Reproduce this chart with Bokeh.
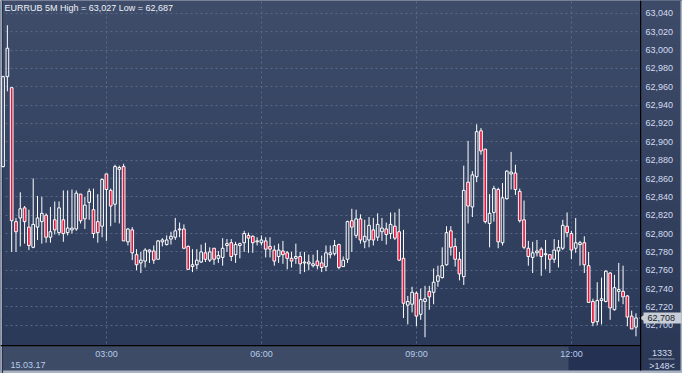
from bokeh.plotting import figure
from bokeh.models import ColumnDataSource, Range1d, FixedTicker, NumeralTickFormatter, Label, BoxAnnotation
from bokeh.embed import file_html
from bokeh.resources import INLINE

# ---------------- data ----------------
symbol = "EURRUB"
timeframe = "5M"
session_date = "15.03.17"
first_bar_time = "01:00"
bar_minutes = 5
total_bars_label = "1333"

opens = [62873, 62971, 62959, 62813, 62817, 62828, 62807, 62785, 62807, 62813,
         62820, 62796, 62815, 62801, 62815, 62801, 62804, 62805, 62843, 62816,
         62834, 62826, 62813, 62808, 62865, 62847, 62832, 62870, 62873, 62791,
         62804, 62777, 62768, 62770, 62780, 62781, 62772, 62791, 62788, 62794,
         62796, 62804, 62805, 62786, 62764, 62766, 62769, 62779, 62771, 62784,
         62773, 62774, 62787, 62790, 62777, 62787, 62790, 62798, 62797, 62791,
         62790, 62792, 62786, 62782, 62775, 62781, 62779, 62773, 62773, 62775,
         62768, 62767, 62765, 62770, 62768, 62764, 62777, 62778, 62788, 62764,
         62772, 62814, 62798, 62816, 62791, 62793, 62804, 62796, 62802, 62805,
         62800, 62808, 62802, 62773, 62722, 62723, 62735, 62712, 62726, 62737,
         62736, 62748, 62752, 62766, 62803, 62786, 62772, 62753, 62856, 62829,
         62862, 62912, 62892, 62811, 62823, 62848, 62790, 62838, 62865, 62866,
         62846, 62815, 62784, 62774, 62779, 62783, 62777, 62777, 62772, 62781,
         62784, 62808, 62800, 62784, 62788, 62790, 62765, 62726, 62704, 62727,
         62726, 62757, 62717, 62737, 62737, 62732, 62710, 62698]
highs = [62972, 63027, 62959, 62817, 62845, 62830, 62826, 62860, 62841, 62840,
         62822, 62829, 62835, 62835, 62847, 62847, 62848, 62847, 62843, 62840,
         62849, 62849, 62843, 62860, 62865, 62849, 62875, 62874, 62876, 62806,
         62807, 62783, 62780, 62784, 62783, 62787, 62793, 62795, 62798, 62802,
         62817, 62812, 62810, 62787, 62783, 62783, 62788, 62790, 62785, 62784,
         62781, 62795, 62794, 62794, 62791, 62790, 62803, 62801, 62798, 62796,
         62798, 62796, 62796, 62787, 62789, 62792, 62781, 62780, 62789, 62780,
         62780, 62777, 62777, 62782, 62776, 62787, 62787, 62793, 62789, 62775,
         62814, 62827, 62826, 62821, 62815, 62818, 62817, 62822, 62817, 62812,
         62823, 62823, 62827, 62804, 62732, 62742, 62737, 62740, 62743, 62743,
         62762, 62765, 62785, 62808, 62808, 62795, 62780, 62874, 62901, 62868,
         62919, 62915, 62892, 62843, 62852, 62850, 62855, 62869, 62889, 62875,
         62849, 62836, 62792, 62791, 62793, 62785, 62793, 62777, 62794, 62793,
         62815, 62823, 62803, 62817, 62792, 62797, 62780, 62729, 62747, 62752,
         62760, 62758, 62755, 62768, 62765, 62733, 62716, 62713]
lows = [62872, 62955, 62780, 62780, 62786, 62789, 62782, 62784, 62793, 62789,
        62790, 62790, 62799, 62798, 62791, 62798, 62800, 62803, 62811, 62805,
        62815, 62795, 62790, 62796, 62792, 62808, 62812, 62811, 62792, 62787,
        62771, 62760, 62757, 62763, 62768, 62767, 62772, 62786, 62787, 62788,
        62793, 62796, 62783, 62761, 62758, 62761, 62768, 62769, 62769, 62766,
        62768, 62765, 62780, 62770, 62768, 62773, 62780, 62779, 62779, 62787,
        62787, 62774, 62774, 62765, 62768, 62767, 62761, 62763, 62767, 62756,
        62758, 62760, 62763, 62761, 62758, 62759, 62773, 62776, 62761, 62764,
        62768, 62780, 62795, 62789, 62784, 62785, 62787, 62792, 62792, 62788,
        62794, 62793, 62770, 62708, 62701, 62714, 62699, 62706, 62687, 62717,
        62723, 62742, 62751, 62765, 62776, 62764, 62749, 62744, 62811, 62818,
        62856, 62886, 62811, 62785, 62813, 62784, 62787, 62837, 62848, 62842,
        62812, 62783, 62765, 62757, 62775, 62754, 62761, 62757, 62768, 62763,
        62782, 62796, 62772, 62779, 62765, 62757, 62725, 62699, 62700, 62701,
        62725, 62706, 62716, 62726, 62723, 62699, 62696, 62688]
closes = [62971, 63002, 62814, 62802, 62827, 62813, 62787, 62810, 62817, 62822,
          62796, 62802, 62804, 62828, 62800, 62806, 62806, 62844, 62814, 62831,
          62846, 62800, 62801, 62859, 62848, 62830, 62873, 62872, 62792, 62805,
          62779, 62766, 62771, 62782, 62782, 62771, 62792, 62793, 62793, 62797,
          62803, 62805, 62784, 62761, 62766, 62771, 62780, 62772, 62780, 62772,
          62776, 62784, 62789, 62775, 62788, 62789, 62800, 62795, 62790, 62792,
          62793, 62783, 62783, 62770, 62782, 62777, 62773, 62770, 62775, 62767,
          62769, 62769, 62767, 62765, 62763, 62779, 62779, 62787, 62763, 62771,
          62813, 62807, 62816, 62793, 62797, 62809, 62793, 62810, 62806, 62799,
          62810, 62795, 62771, 62724, 62726, 62736, 62710, 62728, 62729, 62731,
          62747, 62754, 62765, 62801, 62785, 62772, 62756, 62847, 62830, 62864,
          62911, 62890, 62813, 62822, 62849, 62791, 62839, 62868, 62867, 62848,
          62814, 62785, 62775, 62779, 62781, 62775, 62778, 62772, 62782, 62785,
          62809, 62801, 62782, 62790, 62790, 62766, 62725, 62703, 62727, 62729,
          62759, 62719, 62741, 62739, 62731, 62709, 62696, 62708]

y_ticks = list(range(62700, 63041, 20))
x_tick_labels = ["03:00", "06:00", "09:00", "12:00"]

# ---------------- derived ----------------
n = len(opens)
idx = list(range(n))
h0, m0 = map(int, first_bar_time.split(":"))
times = ["%02d:%02d" % divmod(h0 * 60 + m0 + i * bar_minutes, 60) for i in idx]
tick_pos = [times.index(t) for t in x_tick_labels]

RED = "#e3173e"
body_top = [max(o, c) for o, c in zip(opens, closes)]
body_bot = [min(o, c) for o, c in zip(opens, closes)]
src = ColumnDataSource(dict(
    x=idx, high=highs, low=lows, top=body_top, bot=body_bot,
    fill=[RED if c < o else "#000000" for o, c in zip(opens, closes)],
    falpha=[1.0 if c < o else 0.0 for o, c in zip(opens, closes)],
))

# ---------------- layout (frame = whole canvas; plot area inside it) ----------------
W, H = 682, 373
PL, PR, PT, PB = 3, 640, 0, 345          # plot area in canvas pixels
xa, xb = 0.1, 148.05                      # data x at plot area edges
ya, yb = 62678.0, 63054.0                 # data y at plot area bottom / top
pxu = (PR - PL) / (xb - xa)
pyu = (PB - PT) / (yb - ya)
xs, xe = xa - PL / pxu, xa + (W - PL) / pxu
ye, ys = yb + PT / pyu, yb - (H - PT) / pyu


def X(px):
    return xs + px / pxu


def Y(py):
    return ye - py / pyu


p = figure(width=W, height=H, output_backend="svg", toolbar_location=None, title=None,
           x_range=Range1d(xs, xe), y_range=Range1d(ys, ye), y_axis_location="right",
           min_border=0, min_border_left=0, min_border_right=0, min_border_top=0,
           min_border_bottom=0, background_fill_color="#364463",
           border_fill_color="#364463", outline_line_color=None)


def box(l, r, t, b, color, level):
    p.add_layout(BoxAnnotation(left=X(l), right=X(r), top=Y(t), bottom=Y(b),
                               fill_color=color, fill_alpha=1, line_color=None, level=level))


def mix(c1, c2, t):
    return "#%02x%02x%02x" % tuple(int(round(a + (b - a) * t)) for a, b in zip(c1, c2))


top_rgb = (62, 76, 106)
bot_rgb = (44, 58, 90)
nb = 40
for k in range(nb):
    t0, t1 = PT + k * (PB - PT) / nb, PT + (k + 1) * (PB - PT) / nb
    box(0, W, t0 - 0.3, t1 + 0.3, mix(top_rgb, bot_rgb, k / (nb - 1)), "image")

# grid
p.xgrid.ticker = FixedTicker(ticks=tick_pos)
p.ygrid.ticker = FixedTicker(ticks=y_ticks)
for g in (p.xgrid, p.ygrid):
    g.grid_line_color = "#5a6888"
    g.grid_line_dash = "2 3"
    g.grid_line_width = 1

# right price-scale strip (covers grid), bottom time strip, scroll thumb, borders
nb2 = 40
for k in range(nb2):
    t0, t1 = k * 370 / nb2, (k + 1) * 370 / nb2
    box(PR, W, t0 - 0.3, t1 + 0.3, mix((61, 75, 105), (42, 55, 86), k / (nb2 - 1)), "underlay")
box(0, PR, PB, 370, "#3e4b67", "underlay")
box(568, PR, PB + 1, 370, "#253152", "underlay")
box(0, W, 370, H, "#aab3c1", "underlay")
box(W - 2, W, 0, H, "#aab3c1", "underlay")
box(0, 1.5, 0, H, "#9aa4b5", "underlay")
box(1.5, 2.6, 0, H, "#27324c", "underlay")
box(648, 674, 358, 359, "#8a95aa", "underlay")
# black separators
box(PR - 0.5, PR + 0.7, 0, 370, "#000000", "annotation")
box(0, PR, PB - 0.5, PB + 0.7, "#000000", "annotation")

# axes (real axes, labels drawn over the strips)
FONT = "Liberation Sans"
p.yaxis.ticker = FixedTicker(ticks=y_ticks)
p.yaxis.formatter = NumeralTickFormatter(format="0,0")
p.xaxis.ticker = FixedTicker(ticks=tick_pos)
p.xaxis.major_label_overrides = {pos: lab for pos, lab in zip(tick_pos, x_tick_labels)}
for ax in (p.xaxis, p.yaxis):
    ax.axis_line_color = None
    ax.major_tick_line_color = None
    ax.minor_tick_line_color = None
    ax.major_tick_out = 0
    ax.major_tick_in = 0
    ax.minor_tick_out = 0
    ax.minor_tick_in = 0
    ax.major_label_text_font = FONT
    ax.major_label_text_font_size = "9px"
p.yaxis.major_label_text_color = "#d3ddee"
p.xaxis.major_label_text_color = "#b5cbeb"
p.yaxis.major_label_standoff = -(W - 645)
p.xaxis.major_label_standoff = -(H - 348)

# candles
p.segment(x0="x", y0="high", x1="x", y1="top", source=src, line_color="white", line_width=1)
p.segment(x0="x", y0="bot", x1="x", y1="low", source=src, line_color="white", line_width=1)
p.vbar(x="x", width=0.62, top="top", bottom="bot", source=src,
       fill_color="fill", fill_alpha="falpha", line_color="white", line_width=1)

# last price tag
last = closes[-1]
p.add_layout(BoxAnnotation(left=X(643), right=X(681), top=last + 5.5 / pyu, bottom=last - 5.5 / pyu,
                           fill_color="#c8cdd6", fill_alpha=1, line_color=None, level="annotation"))
p.scatter(x=[X(642.5)], y=[last], marker="triangle", angle=1.5708, size=7,
          fill_color="#c8cdd6", line_color=None)
p.add_layout(Label(x=X(647), y=last, text=f"{last:,}", text_baseline="middle",
                   text_font=FONT, text_font_size="9px", text_color="#141c2c"))

# texts
p.add_layout(Label(x=X(4), y=Y(7.2),
                   text=f"{symbol} {timeframe} High = {max(highs):,} Low = {min(lows):,}",
                   text_baseline="middle", text_font=FONT, text_font_size="9px",
                   text_color="#eef2f8"))
p.add_layout(Label(x=X(10), y=Y(364), text=session_date, text_baseline="middle",
                   text_font=FONT, text_font_size="9px", text_color="#b5cbeb"))
p.add_layout(Label(x=X(661.5), y=Y(352), text=total_bars_label, text_align="center",
                   text_baseline="middle", text_font=FONT, text_font_size="9px",
                   text_color="#d3ddee"))
p.add_layout(Label(x=X(661.5), y=Y(365.5), text=f">{n}<", text_align="center",
                   text_baseline="middle", text_font=FONT, text_font_size="9px",
                   text_color="#d3ddee"))

open("out.html", "w").write(file_html(p, INLINE))
